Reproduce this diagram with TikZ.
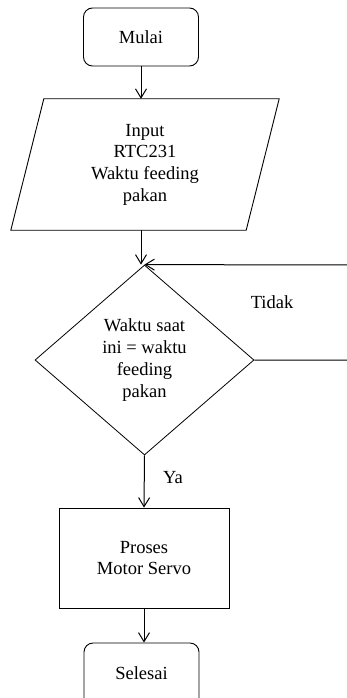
\documentclass[tikz,border=0pt]{standalone}
\usepackage{fontspec}
\setmainfont{Liberation Serif}
\usetikzlibrary{shapes.geometric,arrows.meta}
\begin{document}
\begin{tikzpicture}[x=1pt,y=-1pt,
  every node/.style={font=\fontsize{18.5}{21.7}\selectfont, align=center, inner sep=0pt},
  term/.style={draw, rounded corners=9pt, minimum width=115pt, minimum height=58pt, line width=0.9pt},
  procbox/.style={draw, minimum width=170pt, minimum height=100pt, line width=0.9pt},
  decbox/.style={draw, diamond, minimum width=219pt, minimum height=190pt, aspect=1.15, line width=0.8pt},
  flow/.style={line width=1pt, -{Straight Barb[length=9pt,width=11pt,line width=1pt]}},
  lbl/.style={}]
\useasboundingbox (0,0) rectangle (347,698);
\fill[white] (0,0) rectangle (347,698);
\node[term] (mulai) at (141,37) {Mulai};
\node[minimum width=235pt, minimum height=131pt] (inp) at (145,164.5) {Input\\RTC231\\Waktu feeding\\pakan};
\draw[line width=0.9pt] ([xshift=16.5pt]inp.north west) -- ([xshift=16.5pt]inp.north east)
  -- ([xshift=-16.5pt]inp.south east) -- ([xshift=-16.5pt]inp.south west) -- cycle;
\node[decbox] (dec) at (144.5,360) {Waktu saat\\ini = waktu\\feeding\\pakan};
\node[procbox] (proc) at (144,558) {Proses\\Motor Servo};
\node[term, minimum height=66pt, text depth=6pt] (sel) at (141.5,676) {Selesai};
\coordinate (c1) at (360,360);
\coordinate (c2) at (360,265);
\node[lbl] (tidak) at (272,302) {Tidak};
\node[lbl] (ya) at (173,478) {Ya};
\draw[flow] (mulai.south) -- (mulai.south |- inp.north);
\draw[flow] (inp.south -| 141,0) -- (141,0 |- dec.north);
\draw[flow] (dec.east) -- (c1) -- (c2) -- (dec.north);
\draw[flow] (dec.south) -- (proc.north);
\draw[flow] (proc.south) -- (proc.south |- sel.north);
\end{tikzpicture}
\end{document}
